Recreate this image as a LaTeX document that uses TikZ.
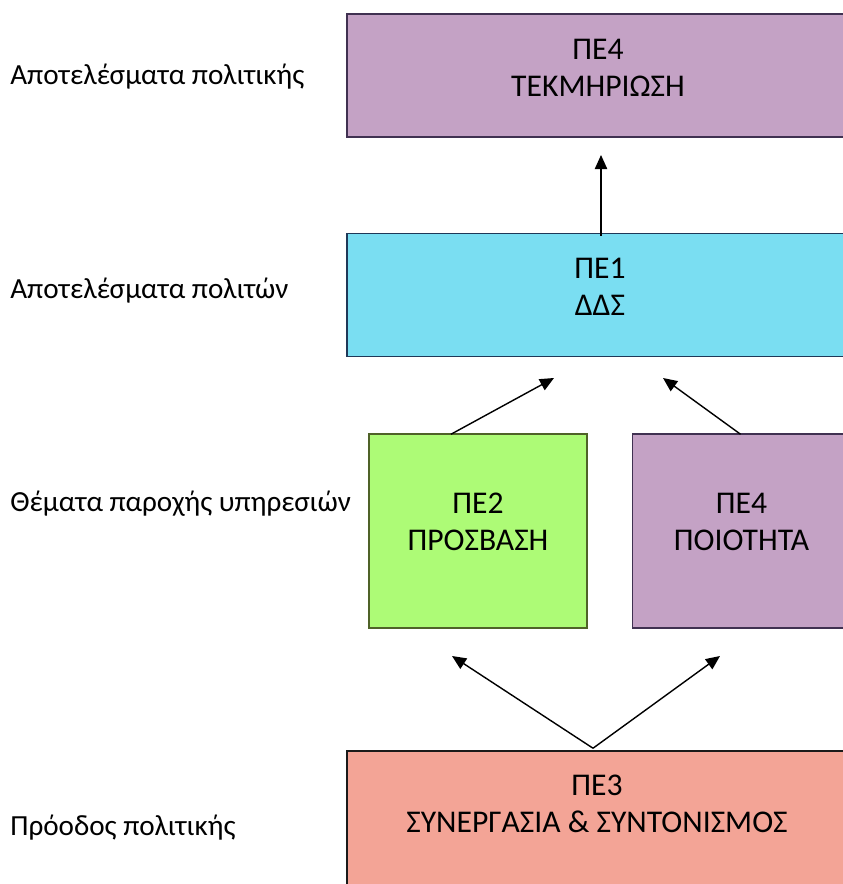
\documentclass[tikz,border=0pt]{standalone}
\usepackage{fontspec}
\setmainfont{Carlito}
\usetikzlibrary{arrows.meta}
\usetikzlibrary{calc}
\definecolor{lilac}{HTML}{C4A2C5}
\definecolor{lilacline}{HTML}{403151}
\definecolor{sky}{HTML}{7ADEF2}
\definecolor{skyline}{HTML}{1F3858}
\definecolor{lime}{HTML}{ADFB76}
\definecolor{limeline}{HTML}{4F6228}
\definecolor{salmon}{HTML}{F3A496}
\definecolor{salmonline}{HTML}{1A1A1A}

\begin{document}
\begin{tikzpicture} [
        x=0.02cm, y=-0.02cm,
        panel/.style={rectangle, line width=0.9pt, inner sep=0pt},
        wide/.style={panel, minimum width=10.04cm, minimum height=2.46cm},
        tall/.style={panel, minimum width=4.36cm, minimum height=3.88cm},
        caption/.style={anchor=west, inner sep=0pt, font=\fontsize{16.6}{20}\selectfont},
        boxtext/.style={align=center, inner sep=0pt, font=\fontsize{18}{21.3}\selectfont},
        link/.style={-{Triangle[length=8pt,width=7pt]}, line width=0.8pt} ]
    \useasboundingbox (0,0) rectangle (842,884);
    % left column
    \node[caption] (lvl1) at (10,77) {Αποτελέσματα πολιτικής};
    \node[caption] (lvl2) at (10,291) {Αποτελέσματα πολιτών};
    \node[caption] (lvl3) at (10,504) {Θέματα παροχής υπηρεσιών};
    \node[caption] (lvl4) at (10,828) {Πρόοδος πολιτικής};
    % boxes
    \node[wide, fill=lilac, draw=lilacline] (doc) at (598,75.5) {};
    \node[boxtext] (doctxt) at (598,68) {ΠΕ4\\ΤΕΚΜΗΡΙΩΣΗ};
    \node[wide, fill=sky, draw=skyline] (dds) at (598,295) {};
    \node[boxtext] (ddstxt) at (600,287) {ΠΕ1\\ΔΔΣ};
    \node[tall, fill=lime, draw=limeline] (access) at (478,531) {};
    \node[boxtext] (accesstxt) at (478,522) {ΠΕ2\\ΠΡΟΣΒΑΣΗ};
    \node[tall, fill=lilac, draw=lilacline] (quality) at (741.5,531) {};
    \node[boxtext] (qualitytxt) at (741.5,522) {ΠΕ4\\ΠΟΙΟΤΗΤΑ};
    \node[wide, fill=salmon, draw=salmonline, minimum height=3.2cm] (coop) at (598,831) {};
    \node[boxtext] (cooptxt) at (597,804) {ΠΕ3\\ΣΥΝΕΡΓΑΣΙΑ \& ΣΥΝΤΟΝΙΣΜΟΣ};
    % arrow tips
    \coordinate (doctip) at (601,155);
    \coordinate (ddsleft) at (554,378);
    \coordinate (ddsright) at (663,378);
    \coordinate (accesstip) at (452,656);
    \coordinate (qualitytip) at (720,656);
    \draw[link] ($(dds.north)+(3,3)$) -- (doctip);
    \draw[link] ($(access.north)+(-27,1)$) -- (ddsleft);
    \draw[link] ($(quality.north)+(-1,1)$) -- (ddsright);
    \draw[link] ($(coop.north)+(-5,-2)$) -- (accesstip);
    \draw[link] ($(coop.north)+(-5,-2)$) -- (qualitytip);
\end{tikzpicture}
\end{document}
